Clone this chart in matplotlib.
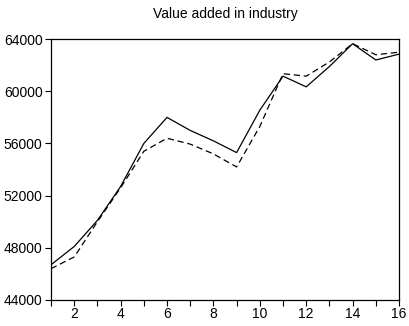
import matplotlib
matplotlib.use("Agg")
import matplotlib.pyplot as plt

plt.rcParams['font.family'] = ['Liberation Sans', 'DejaVu Sans']

periods = list(range(1, 17))
actual = [46700, 48100, 50100, 52700, 56000, 58000, 57000, 56200,
          55300, 58550, 61160, 60340, 61900, 63650, 62400, 62850]
fitted = [46400, 47300, 50000, 52600, 55400, 56400, 55950, 55200,
          54200, 57300, 61350, 61160, 62250, 63650, 62800, 63000]

xTicks = [2, 4, 6, 8, 10, 12, 14, 16]
yTicks = [44000, 48000, 52000, 56000, 60000, 64000]

fig = plt.figure(figsize=(4.09, 3.26), dpi=100)
ax = fig.add_axes([0.1247, 0.0798, 0.8509, 0.8002])

ax.plot(periods, actual, color="black", lw=0.9, ls="-")
ax.plot(periods, fitted, color="black", lw=0.9, ls=(0, (5, 3)))

ax.set_xlim(1, 16)
ax.set_ylim(44000, 64000)
ax.set_xticks(xTicks)
ax.set_xticks(range(1, 17, 2), minor=True)
ax.set_yticks(yTicks)
ax.tick_params(axis="both", which="both", direction="out", length=4, width=0.8,
               labelsize=10, pad=2)
ax.tick_params(axis="x", pad=1)
for s in ax.spines.values():
    s.set_linewidth(0.9)

ax.set_title("Value added in industry", fontsize=10, pad=15)

fig.savefig("out.png", dpi=100)
